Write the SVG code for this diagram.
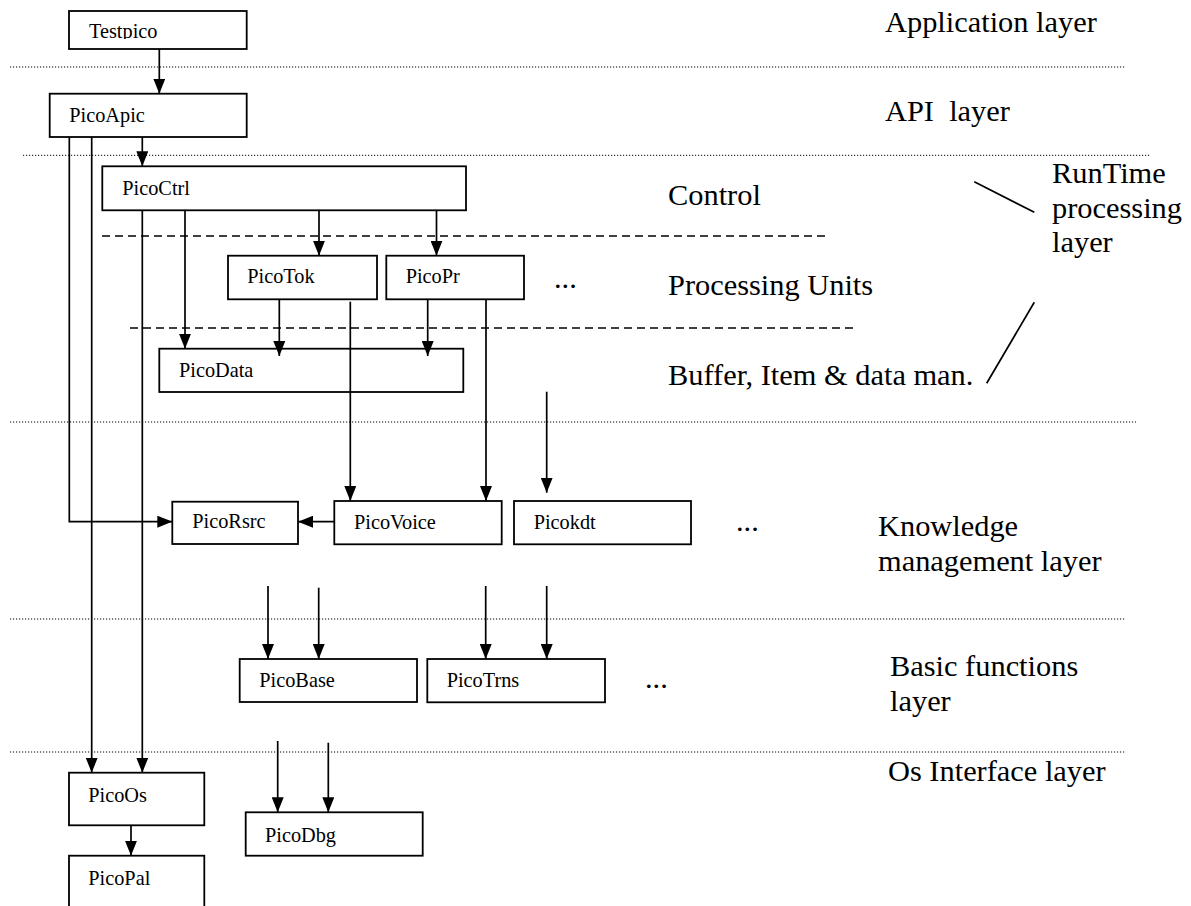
<svg xmlns="http://www.w3.org/2000/svg" width="1191" height="906" viewBox="0 0 1191 906">
<style>
.box{fill:#fff;stroke:#000;stroke-width:1.8}
.nl{font-family:"Liberation Serif","Times New Roman",serif;font-size:20.3px;fill:#000}
.ll{font-family:"Liberation Serif","Times New Roman",serif;font-size:30.4px;fill:#000}
.dot{stroke:#000;stroke-width:1;stroke-dasharray:1.2 1.8;fill:none}
.dash{stroke:#000;stroke-width:1.6;stroke-dasharray:8 5;fill:none}
.c{stroke:#000;stroke-width:1.7;fill:none}
.a{marker-end:url(#ah)}
</style>
<defs>
<marker id="ah" markerUnits="userSpaceOnUse" markerWidth="15" markerHeight="12" refX="15" refY="6" orient="auto">
<path d="M0,0 L15,6 L0,12 z" fill="#000"/>
</marker>
<clipPath id="clipTest"><rect x="69" y="11" width="178" height="28"/></clipPath>
</defs>
<rect width="1191" height="906" fill="#fff"/>
<g id="separators">
<line class="dot" x1="10" y1="67" x2="1125" y2="67"/>
<line class="dot" x1="23" y1="155.3" x2="1150" y2="155.3"/>
<line class="dot" x1="10" y1="422" x2="1136" y2="422"/>
<line class="dot" x1="10" y1="619" x2="1125" y2="619"/>
<line class="dot" x1="10" y1="752" x2="1125" y2="752"/>
<line class="dash" x1="102" y1="236" x2="830" y2="236"/>
<line class="dash" x1="130" y1="328" x2="858" y2="328"/>
</g>
<g id="layer-labels">
<text class="ll" x="885" y="32">Application layer</text>
<text class="ll" x="885" y="121" xml:space="preserve">API  layer</text>
<text class="ll" x="668" y="205">Control</text>
<text class="ll" x="668" y="295">Processing Units</text>
<text class="ll" x="668" y="385">Buffer, Item &amp; data man.</text>
<text class="ll" x="1052"><tspan x="1052" y="183">RunTime</tspan><tspan x="1052" y="218">processing</tspan><tspan x="1052" y="252">layer</tspan></text>
<text class="ll" x="878"><tspan x="878" y="536">Knowledge</tspan><tspan x="878" y="571">management layer</tspan></text>
<text class="ll" x="890"><tspan x="890" y="676">Basic functions</tspan><tspan x="890" y="711">layer</tspan></text>
<text class="ll" x="888" y="781">Os Interface layer</text>
<text class="ll" x="554" y="288">...</text>
<text class="ll" x="736" y="531">...</text>
<text class="ll" x="645" y="688">...</text>
</g>
<g id="Testpico"><rect class="box" x="69" y="11" width="177.7" height="38"/><text class="nl" x="89" y="38" clip-path="url(#clipTest)">Testpico</text></g>
<g id="PicoApic"><rect class="box" x="49.7" y="93.7" width="197" height="43.3"/><text class="nl" x="69.3" y="121.7">PicoApic</text></g>
<g id="PicoCtrl"><rect class="box" x="102.3" y="166.3" width="363.7" height="44"/><text class="nl" x="122.3" y="195">PicoCtrl</text></g>
<g id="PicoTok"><rect class="box" x="228" y="255.7" width="149" height="43.6"/><text class="nl" x="247.3" y="283.3">PicoTok</text></g>
<g id="PicoPr"><rect class="box" x="386.3" y="255.7" width="137.7" height="43.6"/><text class="nl" x="405.7" y="283.3">PicoPr</text></g>
<g id="PicoData"><rect class="box" x="159.3" y="348.7" width="304" height="43.3"/><text class="nl" x="179" y="376.7">PicoData</text></g>
<g id="PicoRsrc"><rect class="box" x="172.3" y="501.7" width="125.7" height="42.3"/><text class="nl" x="192.3" y="528.3">PicoRsrc</text></g>
<g id="PicoVoice"><rect class="box" x="334.3" y="501" width="167.4" height="43.3"/><text class="nl" x="354" y="529">PicoVoice</text></g>
<g id="Picokdt"><rect class="box" x="514" y="501" width="177" height="43.3"/><text class="nl" x="533.7" y="529">Picokdt</text></g>
<g id="PicoBase"><rect class="box" x="239.7" y="659" width="177.3" height="43"/><text class="nl" x="259.3" y="686.7">PicoBase</text></g>
<g id="PicoTrns"><rect class="box" x="427.3" y="659" width="177.7" height="43.3"/><text class="nl" x="446.7" y="686.7">PicoTrns</text></g>
<g id="PicoOs"><rect class="box" x="69" y="772.7" width="135.3" height="52.6"/><text class="nl" x="88.3" y="801.7">PicoOs</text></g>
<g id="PicoPal"><rect class="box" x="69" y="855.7" width="135.3" height="80"/><text class="nl" x="88.3" y="885">PicoPal</text></g>
<g id="PicoDbg"><rect class="box" x="245.7" y="812.3" width="177" height="43.4"/><text class="nl" x="265" y="841.7">PicoDbg</text></g>
<g id="connectors">
<path class="c a" d="M159.3,49 V93.7"/>
<path class="c a" d="M142.3,137 V166.3"/>
<path class="c a" d="M69.3,137 V521.7 H172.3"/>
<path class="c a" d="M91.7,137 V772.7"/>
<path class="c a" d="M142.3,210.3 V772.7"/>
<path class="c a" d="M185,210.3 V348.7"/>
<path class="c a" d="M319,210.3 V255.7"/>
<path class="c a" d="M436.5,210.3 V255.7"/>
<path class="c a" d="M279.3,299.3 V356"/>
<path class="c a" d="M427.7,299.3 V356"/>
<path class="c a" d="M350.3,301.7 V501"/>
<path class="c a" d="M486,299.3 V501"/>
<path class="c a" d="M546.7,391.7 V492.7"/>
<path class="c a" d="M334.3,521.7 H298"/>
<path class="c a" d="M268,586 V659"/>
<path class="c a" d="M318.7,587.7 V659"/>
<path class="c a" d="M485.7,586 V659"/>
<path class="c a" d="M546.7,586 V659"/>
<path class="c a" d="M277.7,741 V812.3"/>
<path class="c a" d="M328.3,742.7 V812.3"/>
<path class="c a" d="M131,825.3 V855.7"/>
<path class="c" d="M974.3,181.7 L1034.3,212.3"/>
<path class="c" d="M1034.3,302.3 L986.7,383.3"/>
</g>
</svg>
